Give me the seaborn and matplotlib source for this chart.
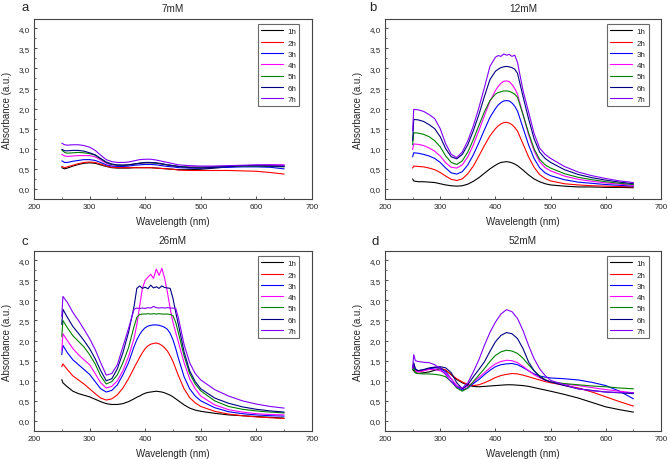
import pandas as pd
import matplotlib
matplotlib.use("Agg")
import matplotlib.pyplot as plt
import seaborn as sns
from matplotlib.ticker import FuncFormatter, MultipleLocator

# series labels + colours (Origin style)
hours = ["1h", "2h", "3h", "4h", "5h", "6h", "7h"]
colores = ["#000000", "#FF0000", "#0000FF", "#FF00FF", "#008000", "#000080", "#8000FF"]

# panel a - 7mM
wl_a = [250, 255, 260, 270, 280, 290, 300, 310, 320, 330, 340, 350, 360, 370, 380, 390,
        400, 410, 420, 430, 440, 450, 460, 480, 500, 525, 550, 575, 600, 625, 650]
a_1h = [0.53, 0.50, 0.52, 0.57, 0.61, 0.64, 0.65, 0.64, 0.60, 0.56, 0.53, 0.52, 0.52, 0.52, 0.53, 0.53,
        0.53, 0.53, 0.52, 0.51, 0.50, 0.49, 0.48, 0.48, 0.49, 0.52, 0.55, 0.57, 0.58, 0.58, 0.57]
a_2h = [0.56, 0.53, 0.55, 0.59, 0.63, 0.66, 0.67, 0.66, 0.62, 0.57, 0.54, 0.53, 0.53, 0.53, 0.53, 0.53,
        0.53, 0.53, 0.52, 0.51, 0.50, 0.49, 0.47, 0.46, 0.46, 0.46, 0.46, 0.45, 0.44, 0.41, 0.37]
a_3h = [0.70, 0.66, 0.66, 0.69, 0.71, 0.73, 0.73, 0.71, 0.66, 0.60, 0.57, 0.56, 0.56, 0.57, 0.59, 0.60,
        0.61, 0.61, 0.60, 0.58, 0.56, 0.55, 0.53, 0.52, 0.52, 0.53, 0.54, 0.55, 0.55, 0.54, 0.50]
a_4h = [0.86, 0.82, 0.81, 0.82, 0.83, 0.83, 0.83, 0.80, 0.72, 0.64, 0.60, 0.59, 0.59, 0.60, 0.62, 0.64,
        0.65, 0.65, 0.64, 0.62, 0.60, 0.58, 0.56, 0.55, 0.55, 0.56, 0.57, 0.58, 0.59, 0.60, 0.60]
a_5h = [0.97, 0.91, 0.89, 0.90, 0.91, 0.90, 0.88, 0.84, 0.75, 0.66, 0.61, 0.59, 0.59, 0.60, 0.62, 0.64,
        0.65, 0.65, 0.64, 0.62, 0.60, 0.58, 0.56, 0.54, 0.54, 0.55, 0.56, 0.57, 0.57, 0.56, 0.55]
a_6h = [0.99, 0.95, 0.95, 0.96, 0.96, 0.94, 0.90, 0.85, 0.76, 0.67, 0.62, 0.60, 0.59, 0.60, 0.62, 0.64,
        0.66, 0.66, 0.65, 0.63, 0.60, 0.58, 0.56, 0.53, 0.52, 0.54, 0.56, 0.58, 0.58, 0.57, 0.56]
a_7h = [1.14, 1.10, 1.09, 1.10, 1.10, 1.08, 1.04, 0.96, 0.84, 0.73, 0.68, 0.66, 0.66, 0.67, 0.70, 0.73,
        0.74, 0.74, 0.72, 0.69, 0.66, 0.63, 0.60, 0.58, 0.57, 0.57, 0.58, 0.59, 0.60, 0.60, 0.59]

# panel b - 12mM
wl_b = [250, 252, 260, 270, 280, 290, 300, 310, 320, 330, 340, 350, 360, 370, 380, 390, 400,
        405, 410, 415, 420, 425, 430, 435, 440, 450, 460, 470, 480, 490, 500, 525, 550, 575, 600, 625, 650]
b_1h = [0.25, 0.20, 0.18, 0.18, 0.17, 0.16, 0.13, 0.10, 0.08, 0.07, 0.08, 0.12, 0.19, 0.28, 0.39, 0.50, 0.59,
        0.63, 0.66, 0.67, 0.68, 0.67, 0.65, 0.62, 0.58, 0.47, 0.35, 0.25, 0.18, 0.13, 0.10, 0.07, 0.05, 0.05, 0.04, 0.04, 0.03]
b_2h = [0.52, 0.57, 0.56, 0.55, 0.52, 0.48, 0.41, 0.32, 0.24, 0.21, 0.25, 0.38, 0.57, 0.82, 1.08, 1.32, 1.50,
        1.57, 1.62, 1.65, 1.66, 1.64, 1.60, 1.53, 1.44, 1.12, 0.80, 0.54, 0.36, 0.26, 0.20, 0.13, 0.10, 0.08, 0.07, 0.06, 0.05]
b_3h = [0.80, 0.90, 0.89, 0.86, 0.82, 0.76, 0.66, 0.52, 0.40, 0.37, 0.43, 0.60, 0.85, 1.15, 1.47, 1.78, 2.00,
        2.09, 2.15, 2.19, 2.20, 2.19, 2.14, 2.06, 1.94, 1.52, 1.10, 0.76, 0.53, 0.40, 0.33, 0.23, 0.17, 0.14, 0.11, 0.09, 0.07]
b_4h = [0.98, 1.12, 1.11, 1.08, 1.02, 0.94, 0.82, 0.65, 0.54, 0.52, 0.60, 0.80, 1.10, 1.45, 1.82, 2.18, 2.45,
        2.55, 2.63, 2.68, 2.69, 2.67, 2.60, 2.50, 2.36, 1.85, 1.35, 0.95, 0.68, 0.53, 0.45, 0.32, 0.24, 0.19, 0.15, 0.12, 0.09]
b_5h = [1.10, 1.40, 1.39, 1.36, 1.30, 1.20, 1.05, 0.82, 0.66, 0.61, 0.70, 0.92, 1.23, 1.58, 1.92, 2.20, 2.36,
        2.40, 2.42, 2.44, 2.44, 2.43, 2.40, 2.36, 2.28, 1.85, 1.40, 1.00, 0.74, 0.60, 0.52, 0.38, 0.29, 0.23, 0.18, 0.14, 0.11]
b_6h = [1.20, 1.73, 1.72, 1.68, 1.60, 1.50, 1.30, 1.00, 0.80, 0.75, 0.86, 1.10, 1.45, 1.85, 2.30, 2.72, 2.93,
        2.98, 3.02, 3.04, 3.05, 3.04, 3.02, 2.98, 2.88, 2.30, 1.75, 1.25, 0.92, 0.76, 0.66, 0.48, 0.36, 0.28, 0.22, 0.17, 0.13]
b_7h = [1.45, 1.98, 1.97, 1.93, 1.85, 1.75, 1.50, 1.12, 0.86, 0.78, 0.92, 1.20, 1.57, 2.02, 2.52, 3.05, 3.28,
        3.32, 3.30, 3.36, 3.33, 3.35, 3.30, 3.33, 3.15, 2.45, 1.92, 1.38, 1.02, 0.86, 0.76, 0.56, 0.42, 0.33, 0.26, 0.20, 0.16]

# panel c - 26mM
wl_c = [250, 252, 260, 270, 280, 290, 300, 310, 320, 330, 340, 350, 360, 370, 380,
        385, 390, 395, 400, 405, 410, 415, 420, 425, 430, 435, 440, 445, 450, 455, 460,
        470, 480, 490, 500, 525, 550, 575, 600, 625, 650]
c_1h = [1.03, 0.95, 0.85, 0.74, 0.68, 0.64, 0.60, 0.54, 0.48, 0.43, 0.41, 0.41, 0.43, 0.48, 0.55,
        0.59, 0.62, 0.66, 0.69, 0.71, 0.72, 0.73, 0.74, 0.73, 0.72, 0.70, 0.67, 0.64, 0.60, 0.55, 0.50,
        0.40, 0.32, 0.27, 0.24, 0.19, 0.15, 0.13, 0.11, 0.09, 0.07]
c_2h = [1.35, 1.42, 1.28, 1.12, 1.02, 0.92, 0.80, 0.68, 0.57, 0.52, 0.55, 0.65, 0.82, 1.05, 1.32,
        1.45, 1.58, 1.70, 1.80, 1.87, 1.91, 1.93, 1.94, 1.92, 1.88, 1.82, 1.74, 1.62, 1.48, 1.30, 1.12,
        0.80, 0.58, 0.45, 0.36, 0.24, 0.17, 0.13, 0.10, 0.08, 0.06]
c_3h = [1.65, 1.88, 1.70, 1.52, 1.40, 1.28, 1.16, 0.98, 0.80, 0.72, 0.76, 0.90, 1.15, 1.45, 1.85,
        2.02, 2.15, 2.25, 2.32, 2.36, 2.38, 2.39, 2.39, 2.38, 2.36, 2.33, 2.28, 2.18, 2.02, 1.80, 1.55,
        1.10, 0.80, 0.62, 0.50, 0.33, 0.23, 0.18, 0.15, 0.13, 0.12]
c_4h = [1.75, 2.17, 2.00, 1.80, 1.65, 1.52, 1.40, 1.18, 0.95, 0.82, 0.86, 1.00, 1.25, 1.60, 2.05,
        2.40, 2.85, 3.30, 3.50, 3.58, 3.65, 3.55, 3.78, 3.62, 3.80, 3.55, 3.20, 2.80, 2.45, 2.20, 1.95,
        1.45, 1.05, 0.80, 0.62, 0.40, 0.28, 0.22, 0.18, 0.16, 0.15]
c_5h = [2.10, 2.50, 2.32, 2.12, 1.98, 1.84, 1.65, 1.42, 1.12, 0.92, 0.98, 1.15, 1.45, 1.82, 2.35,
        2.58, 2.65, 2.66, 2.66, 2.67, 2.66, 2.67, 2.66, 2.67, 2.66, 2.66, 2.66, 2.65, 2.62, 2.45, 2.18,
        1.62, 1.18, 0.92, 0.75, 0.50, 0.36, 0.29, 0.25, 0.22, 0.20]
c_6h = [2.40, 2.78, 2.58, 2.35, 2.18, 2.00, 1.80, 1.55, 1.25, 1.00, 1.05, 1.30, 1.70, 2.20, 2.85,
        3.30, 3.36, 3.30, 3.33, 3.29, 3.38, 3.31, 3.34, 3.30, 3.36, 3.32, 3.31, 3.30, 3.05, 2.70, 2.38,
        1.72, 1.25, 0.98, 0.80, 0.57, 0.44, 0.35, 0.29, 0.25, 0.22]
c_7h = [2.60, 3.10, 2.95, 2.70, 2.50, 2.28, 2.05, 1.78, 1.45, 1.14, 1.18, 1.40, 1.85, 2.30, 2.78,
        2.81, 2.80, 2.81, 2.80, 2.82, 2.81, 2.85, 2.82, 2.81, 2.82, 2.81, 2.82, 2.81, 2.81, 2.80, 2.55,
        1.90, 1.45, 1.18, 1.02, 0.78, 0.62, 0.50, 0.42, 0.36, 0.32]

# panel d - 52mM
wl_d = [250, 252, 255, 260, 270, 280, 290, 300, 310, 320, 330, 340, 350, 360, 370, 380, 390,
        400, 410, 420, 430, 440, 450, 460, 470, 480, 490, 500, 525, 550, 575, 600, 625, 650]
d_1h = [1.28, 1.25, 1.20, 1.18, 1.20, 1.22, 1.26, 1.30, 1.26, 1.15, 1.03, 0.95, 0.89, 0.86, 0.85, 0.86, 0.87,
        0.88, 0.89, 0.90, 0.90, 0.89, 0.88, 0.86, 0.83, 0.80, 0.77, 0.74, 0.66, 0.57, 0.46, 0.35, 0.28, 0.22]
d_2h = [1.30, 1.35, 1.25, 1.22, 1.25, 1.30, 1.33, 1.32, 1.26, 1.15, 1.05, 0.97, 0.91, 0.88, 0.90, 0.95, 1.01,
        1.08, 1.13, 1.16, 1.18, 1.17, 1.14, 1.10, 1.06, 1.02, 0.98, 0.95, 0.89, 0.82, 0.72, 0.60, 0.48, 0.37]
d_3h = [1.35, 1.42, 1.30, 1.25, 1.27, 1.30, 1.32, 1.32, 1.22, 1.05, 0.85, 0.77, 0.82, 0.93, 1.03, 1.15, 1.26,
        1.35, 1.40, 1.42, 1.43, 1.40, 1.33, 1.25, 1.17, 1.12, 1.09, 1.07, 1.05, 1.02, 0.96, 0.88, 0.74, 0.55]
d_4h = [1.30, 1.38, 1.25, 1.22, 1.25, 1.28, 1.28, 1.25, 1.18, 1.05, 0.88, 0.80, 0.86, 0.97, 1.08, 1.20, 1.32,
        1.42, 1.48, 1.51, 1.50, 1.45, 1.36, 1.25, 1.15, 1.08, 1.01, 0.97, 0.92, 0.88, 0.83, 0.78, 0.74, 0.70]
d_5h = [1.28, 1.32, 1.20, 1.18, 1.17, 1.17, 1.16, 1.14, 1.10, 0.98, 0.82, 0.74, 0.82, 0.98, 1.14, 1.30, 1.48,
        1.63, 1.72, 1.76, 1.74, 1.68, 1.56, 1.40, 1.25, 1.12, 1.03, 0.97, 0.93, 0.90, 0.87, 0.85, 0.82, 0.80]
d_6h = [1.30, 1.45, 1.28, 1.25, 1.28, 1.32, 1.34, 1.35, 1.32, 1.20, 0.95, 0.80, 0.90, 1.10, 1.28, 1.47, 1.73,
        1.97, 2.13, 2.20, 2.17, 2.05, 1.80, 1.47, 1.25, 1.10, 1.02, 0.97, 0.88, 0.80, 0.76, 0.72, 0.70, 0.68]
d_7h = [1.30, 1.65, 1.50, 1.48, 1.46, 1.45, 1.40, 1.30, 1.15, 0.97, 0.85, 0.82, 0.95, 1.22, 1.52, 1.88, 2.20,
        2.46, 2.66, 2.77, 2.72, 2.55, 2.25, 1.88, 1.55, 1.30, 1.13, 1.01, 0.90, 0.80, 0.75, 0.72, 0.71, 0.70]

paneles = [
    ("a", "7mM", wl_a, [a_1h, a_2h, a_3h, a_4h, a_5h, a_6h, a_7h]),
    ("b", "12mM", wl_b, [b_1h, b_2h, b_3h, b_4h, b_5h, b_6h, b_7h]),
    ("c", "26mM", wl_c, [c_1h, c_2h, c_3h, c_4h, c_5h, c_6h, c_7h]),
    ("d", "52mM", wl_d, [d_1h, d_2h, d_3h, d_4h, d_5h, d_6h, d_7h]),
]

sns.set_theme(style="ticks")
plt.rcParams['font.family'] = ['Liberation Sans', 'DejaVu Sans']
plt.rcParams['xtick.direction'] = 'in'
plt.rcParams['ytick.direction'] = 'in'

fig = plt.figure(figsize=(6.69, 4.6), dpi=100)
posiciones = [
    [0.0508, 0.5652, 0.4155, 0.3913],
    [0.5755, 0.5652, 0.4126, 0.3913],
    [0.0508, 0.0609, 0.4155, 0.3913],
    [0.5755, 0.0609, 0.4126, 0.3913],
]
letras_xy = [(25, 8), (373, 8), (25, 242), (375, 242)]

coma = FuncFormatter(lambda v, p: f"{v:.1f}".replace(".", ","))

for (letra, titulo, wl, series), pos, (lx, ly) in zip(paneles, posiciones, letras_xy):
    ax = fig.add_axes(pos)
    frames = []
    for h, vals in zip(hours, series):
        frames.append(pd.DataFrame({"wl": wl, "abs": vals, "t": h}))
    df = pd.concat(frames, ignore_index=True)
    sns.lineplot(data=df, x="wl", y="abs", hue="t", palette=colores, linewidth=0.8, ax=ax)

    ax.set_xlim(200, 700)
    ax.set_ylim(-0.25, 4.23)
    ax.xaxis.set_major_locator(MultipleLocator(100))
    ax.xaxis.set_minor_locator(MultipleLocator(50))
    ax.yaxis.set_major_locator(MultipleLocator(0.5))
    ax.yaxis.set_minor_locator(MultipleLocator(0.25))
    ax.yaxis.set_major_formatter(coma)
    ax.tick_params(which='major', length=2.5, width=0.6, labelsize=5.8, pad=3, color='#333333')
    ax.tick_params(which='minor', length=1.5, width=0.5, color='#333333')
    for s in ax.spines.values():
        s.set_visible(True)
        s.set_linewidth(0.8)
        s.set_color('#444444')

    ax.set_xlabel("Wavelength (nm)", fontsize=7, labelpad=4)
    ax.set_ylabel("Absorbance (a.u.)", fontsize=7, labelpad=5)
    ax.set_title(titulo, fontsize=7.2, pad=6)

    leg = ax.legend(loc='upper right', bbox_to_anchor=(0.955, 0.97), borderaxespad=0,
                    fontsize=5.8, handlelength=2.8, labelspacing=0.45, handletextpad=0.5,
                    borderpad=0.4, fancybox=False, frameon=True)
    leg.get_frame().set_edgecolor('#444444')
    leg.get_frame().set_linewidth(0.8)
    for ln in leg.get_lines():
        ln.set_linewidth(0.8)

    fig.text(lx / 669, 1 - ly / 460, letra, fontsize=9.5, ha='center', va='center')

plt.savefig("out.png", dpi=100)
plt.close()
